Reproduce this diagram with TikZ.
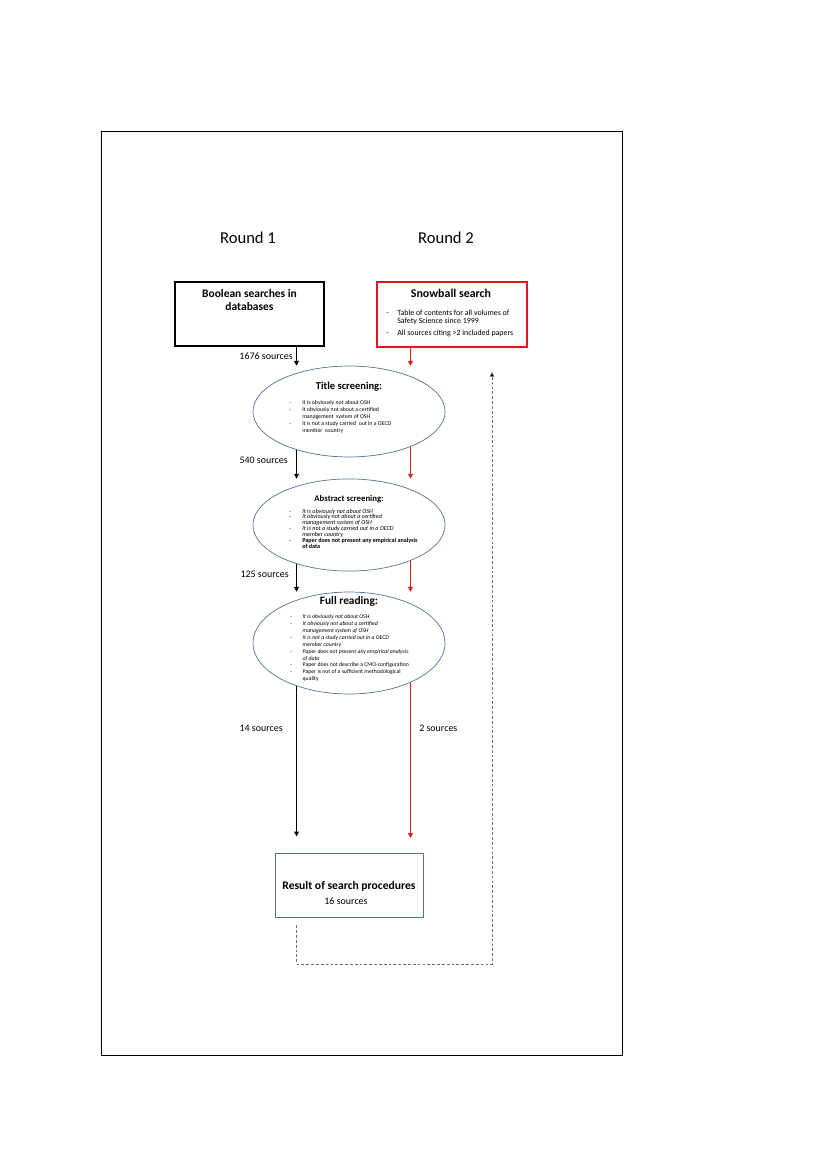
\documentclass[tikz,border=0pt]{standalone}
\usepackage{fontspec}
\setmainfont{Carlito}
\usepackage{tikz}
\usetikzlibrary{arrows.meta, shapes.geometric, backgrounds}
\definecolor{snowred}{RGB}{228,20,28}
\definecolor{ovalblue}{RGB}{80,115,150}
\definecolor{loopgray}{RGB}{110,110,110}

% list with a dash column
\newcommand{\dashlist}[2]{\begin{tabular}[t]{@{}p{#1}@{}l@{}}#2\end{tabular}}

\tikzset{
  ovalbox/.style={ellipse, draw=ovalblue, line width=0.5pt, fill=white, minimum width=48.8mm, inner sep=0pt},
  flowarrow/.style={line width=0.6pt, -{Triangle[length=3.4pt,width=3.4pt]}},
  countlabel/.style={font=\fontsize{7.2}{8}\selectfont, inner sep=0pt},
  listtext/.style={inner sep=0pt, anchor=base west},
}

\begin{document}
\begin{tikzpicture}[x=0.254mm, y=-0.254mm]
    \useasboundingbox (0,0) rectangle (827,1169);

    % Outer frame
    \draw[line width=0.7pt] (101,131) rectangle (622,1055);

    % Round headings
    \node[font=\fontsize{12}{14}\selectfont] (round1) at (248,238) {Round 1};
    \node[font=\fontsize{12}{14}\selectfont] (round2) at (446,238) {Round 2};

    % Boolean searches box
    \node[draw, line width=1.4pt, minimum width=37.85mm, minimum height=16.26mm, inner sep=0pt] (bool) at (249.5,314) {};
    \node[font=\fontsize{8.3}{10}\bfseries, align=center, inner sep=0pt] (boolText) at (249.5,300) {Boolean searches in\\databases};

    % Snowball search box
    \node[draw=snowred, line width=1pt, minimum width=38.1mm, minimum height=16.5mm, inner sep=0pt] (snow) at (452,314.5) {};
    \node[font=\fontsize{8.6}{9}\bfseries, inner sep=0pt] (snowText) at (451,293) {Snowball search};
    \node[listtext, font=\fontsize{5.7}{5.2}\selectfont] (snowList) at (386,315.5) {\dashlist{8pt}{
        - & Table of contents for all volumes of\\
          & Safety Science since 1999\\[3.4pt]
        - & All sources citing >2 included papers}};

    % Title screening
    \node[ovalbox, minimum height=23.1mm] (title) at (349,411.5) {};
    \node[font=\fontsize{7.6}{8}\bfseries, inner sep=0pt] (titleHead) at (349,387) {Title screening:};
    \node[listtext, font=\fontsize{4.2}{5}\selectfont] (titleList) at (289,404.5) {\dashlist{9.4pt}{
        - & It is obviously not about OSH\\
        - & It obviously not about a certified\\
          & management\ \ system of OSH\\
        - & It is not a study carried\ \ out in a OECD\\
          & member\ \ country}};

    % Abstract screening
    \node[ovalbox, minimum height=23.4mm] (abstract) at (349,525) {};
    \node[font=\fontsize{6.3}{7}\bfseries, inner sep=0pt] (abstractHead) at (349,499) {Abstract screening:};
    \node[listtext, font=\fontsize{4.4}{4.2}\selectfont] (abstractList) at (289,513) {\dashlist{9.4pt}{
        - & \textit{It is obviously not about OSH}\\
        - & \textit{It obviously not about a certified}\\
          & \textit{management system of OSH}\\
        - & \textit{It is not a study carried out in a OECD}\\
          & \textit{member country}\\
        - & \textbf{Paper does not present any empirical analysis}\\
          & \textbf{of data}}};

    % Full reading
    \node[ovalbox, minimum height=25.9mm] (full) at (349,643) {};
    \node[font=\fontsize{8.2}{9}\bfseries, inner sep=0pt] (fullHead) at (349,601) {Full reading:};
    \node[listtext, font=\fontsize{4.15}{5}\selectfont] (fullList) at (290,618.5) {\dashlist{9pt}{
        - & \textit{It is obviously not about OSH}\\
        - & \textit{It obviously not about a certified}\\
          & \textit{management system of OSH}\\
        - & \textit{It is not a study carried out in a OECD}\\
          & \textit{member country}\\
        - & \textit{Paper does not present any empirical analysis}\\
          & \textit{of data}\\
        - & Paper does not describe a CMO-configuration\\
        - & Paper is not of a sufficient methodological\\
          & quality}};

    % Result box
    \node[draw=ovalblue, line width=0.6pt, minimum width=37.6mm, minimum height=16.3mm, inner sep=0pt] (result) at (349,885) {};
    \node[font=\fontsize{8.4}{9}\bfseries, inner sep=0pt] (resultHead) at (349,886) {Result of search procedures};
    \node[countlabel] (resultCount) at (346,901) {16 sources};

    % Columns for the arrows
    \coordinate (colL) at (296.5,0);
    \coordinate (colR) at (410.5,0);
    \coordinate (loopCorner) at (492,964);
    \coordinate (loopTop) at (492,372);

    % Arrows
    \draw[flowarrow] (bool.south -| colL) -- (title.north -| colL);
    \draw[flowarrow, snowred] (snow.south -| colR) -- (title.north -| colR);
    \begin{scope}[on background layer]
        \draw[flowarrow] (title.center -| colL) -- (abstract.north -| colL);
        \draw[flowarrow, snowred] (title.center -| colR) -- (abstract.north -| colR);
        \draw[flowarrow] (abstract.center -| colL) -- (full.north -| colL);
        \draw[flowarrow, snowred] (abstract.center -| colR) -- (full.north -| colR);
        \draw[flowarrow, shorten >=4.1mm] (full.center -| colL) -- (result.north -| colL);
        \draw[flowarrow, snowred, shorten >=3.7mm] (full.center -| colR) -- (result.north -| colR);
    \end{scope}

    % Counts
    \node[countlabel, anchor=east] (n1676) at (293,356) {1676 sources};
    \node[countlabel, anchor=east] (n540) at (288,460) {540 sources};
    \node[countlabel, anchor=east] (n125) at (289,574) {125 sources};
    \node[countlabel, anchor=east] (n14) at (283,728) {14 sources};
    \node[countlabel, anchor=west] (n2) at (419,728) {2 sources};

    % Dashed loop back to round 2
    \draw[loopgray, line width=0.5pt, dash pattern=on 2pt off 1.5pt, shorten <=2mm, -{Triangle[length=3.4pt,width=3.4pt,fill=black]}]
        (result.south -| colL) |- (loopCorner) -- (loopTop);
\end{tikzpicture}
\end{document}
